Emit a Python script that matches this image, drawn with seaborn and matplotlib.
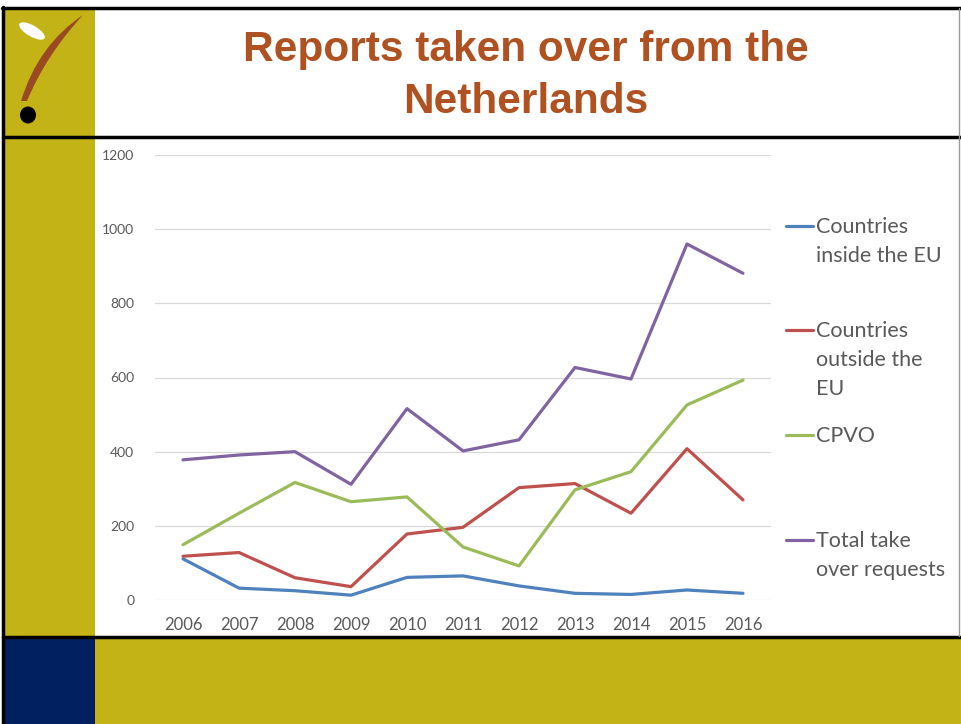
import numpy as np
import pandas as pd
import matplotlib.pyplot as plt
import seaborn as sns
from matplotlib.patches import Rectangle, Ellipse, PathPatch
from matplotlib.path import Path
from matplotlib.lines import Line2D

# Data
years = [2006, 2007, 2008, 2009, 2010, 2011, 2012, 2013, 2014, 2015, 2016]
inside_eu = [111, 32, 25, 13, 61, 65, 38, 18, 15, 27, 18]
outside_eu = [118, 128, 60, 36, 178, 196, 303, 314, 234, 408, 270]
cpvo = [149, 234, 317, 265, 278, 143, 92, 297, 346, 526, 593]
total = [378, 391, 400, 312, 516, 402, 432, 627, 596, 960, 881]

series_names = ["Countries inside the EU", "Countries outside the EU", "CPVO", "Total take over requests"]
legend_labels = ["Countries\ninside the EU", "Countries\noutside the\nEU", "CPVO", "Total take\nover requests"]
colors = ["#4F81BD", "#C0504D", "#9BBB59", "#8064A2"]

df = pd.DataFrame({
    "year": years * 4,
    "value": inside_eu + outside_eu + cpvo + total,
    "series": sum([[n] * len(years) for n in series_names], []),
})

sns.set_theme(style="white")
plt.rcParams['font.family'] = ['Lato', 'DejaVu Sans']

W, H = 961, 724
fig = plt.figure(figsize=(W / 100, H / 100), dpi=100)

# slide background / decorations in pixel coords
bg = fig.add_axes([0, 0, 1, 1], zorder=0)
bg.set_xlim(0, W)
bg.set_ylim(H, 0)
bg.axis("off")

olive = "#C4B316"
navy = "#00205F"
bg.add_patch(Rectangle((4, 9), 91, 628, color=olive, lw=0))
bg.add_patch(Rectangle((4, 638), 91, 86, color=navy, lw=0))
bg.add_patch(Rectangle((95, 638), 866, 86, color=olive, lw=0))
# borders
bg.plot([2, 961], [7.5, 7.5], color="black", lw=2.5)
bg.plot([3, 3], [7, 724], color="black", lw=2.5)
bg.plot([3, 961], [136.5, 136.5], color="black", lw=2.5)
bg.plot([3, 961], [637, 637], color="black", lw=2.5)
bg.plot([958.5, 958.5], [8, 636], color="#999999", lw=1)

# logo
bg.add_patch(Ellipse((32, 31), 29, 11, angle=30, facecolor="white", edgecolor="none"))
stem = Path([(83, 15), (38, 45), (21, 101), (27, 101), (46, 55), (83, 15), (83, 15)],
            [Path.MOVETO, Path.CURVE3, Path.CURVE3, Path.LINETO, Path.CURVE3, Path.CURVE3, Path.CLOSEPOLY])
bg.add_patch(PathPatch(stem, facecolor="#9A4A22", edgecolor="none"))
bg.add_patch(Ellipse((28, 115), 16, 17, facecolor="black", lw=0))

# title
bg.text(526, 76, "Reports taken over from the\nNetherlands", ha="center", va="center",
        fontsize=30.5, fontweight="bold", color="#AF5120", family=["Liberation Sans", "DejaVu Sans"],
        linespacing=1.38)

# chart
ax = fig.add_axes([155 / W, 1 - 600 / H, (771 - 155) / W, (600 - 155) / H], zorder=1)
ax.patch.set_alpha(0)
sns.lineplot(data=df, x="year", y="value", hue="series", hue_order=series_names,
             palette=colors, linewidth=2.3, legend=False, ax=ax)
ax.set_xlim(2005.5, 2016.5)
ax.set_ylim(0, 1200)
ax.set_xticks(years)
ax.set_xticklabels([str(y) for y in years], fontsize=12, color="#595959")
ax.set_yticks(range(0, 1201, 200))
ax.set_yticklabels([str(v) for v in range(0, 1201, 200)], fontsize=10, color="#595959")
ax.tick_params(axis="x", length=0, pad=12)
ax.tick_params(axis="y", length=0, pad=15)
ax.grid(axis="y", color="#D9D9D9", lw=0.9)
for s in ax.spines.values():
    s.set_visible(False)
ax.set_xlabel("")
ax.set_ylabel("")

# legend, handles aligned to first line of each label
leg_y = [226, 330, 435, 540]
for lab, c, y in zip(legend_labels, colors, leg_y):
    bg.add_line(Line2D([786, 813], [y, y], color=c, lw=2.3))
    bg.text(816, y - 9, lab, ha="left", va="top", fontsize=15.5, color="#595959",
            linespacing=1.55)

fig.savefig("out.png", dpi=100)
